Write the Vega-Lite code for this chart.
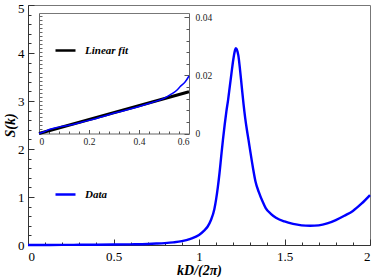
{
  "$schema": "https://vega.github.io/schema/vega-lite/v6.json",
  "width": 342,
  "height": 240,
  "autosize": "none",
  "padding": {"left": 28, "top": 5, "right": 4, "bottom": 32},
  "background": "white",
  "config": {
    "view": {"stroke": "#777", "strokeWidth": 1},
    "font": "Liberation Serif",
    "axis": {
      "grid": false,
      "labelFont": "Liberation Serif",
      "titleFont": "Liberation Serif",
      "labelColor": "#000",
      "titleColor": "#000",
      "tickColor": "#333",
      "domainColor": "#333",
      "labelFontSize": 13,
      "tickWidth": 1,
      "domainWidth": 1
    },
    "legend": {
      "labelFont": "Liberation Serif",
      "labelFontSize": 11,
      "labelFontWeight": "bold",
      "labelFontStyle": "italic",
      "labelColor": "#000",
      "padding": 0,
      "labelOffset": 8,
      "symbolType": "stroke",
      "symbolSize": 400,
      "symbolStrokeWidth": 2.5,
      "title": null
    }
  },
  "datasets": {
    "main": [
      {"k": 0, "s": 0}, {"k": 0.1, "s": 0.001}, {"k": 0.2, "s": 0.002}, {"k": 0.3, "s": 0.004},
      {"k": 0.4, "s": 0.006}, {"k": 0.5, "s": 0.009}, {"k": 0.6, "s": 0.014}, {"k": 0.7, "s": 0.022},
      {"k": 0.75, "s": 0.03}, {"k": 0.8, "s": 0.04}, {"k": 0.85, "s": 0.055}, {"k": 0.9, "s": 0.08},
      {"k": 0.95, "s": 0.13}, {"k": 1.0, "s": 0.21}, {"k": 1.03, "s": 0.3}, {"k": 1.05, "s": 0.38},
      {"k": 1.07, "s": 0.52}, {"k": 1.09, "s": 0.75}, {"k": 1.1, "s": 0.95}, {"k": 1.11, "s": 1.2},
      {"k": 1.12, "s": 1.5}, {"k": 1.13, "s": 1.85}, {"k": 1.14, "s": 2.19}, {"k": 1.15, "s": 2.5},
      {"k": 1.16, "s": 2.78}, {"k": 1.17, "s": 3.02}, {"k": 1.18, "s": 3.3}, {"k": 1.19, "s": 3.58},
      {"k": 1.2, "s": 3.85}, {"k": 1.21, "s": 4.05}, {"k": 1.215, "s": 4.1}, {"k": 1.22, "s": 4.08},
      {"k": 1.23, "s": 3.95}, {"k": 1.24, "s": 3.65}, {"k": 1.25, "s": 3.3}, {"k": 1.26, "s": 2.95},
      {"k": 1.27, "s": 2.65}, {"k": 1.28, "s": 2.4}, {"k": 1.29, "s": 2.18}, {"k": 1.3, "s": 1.95},
      {"k": 1.315, "s": 1.62}, {"k": 1.33, "s": 1.33}, {"k": 1.35, "s": 1.1}, {"k": 1.37, "s": 0.92},
      {"k": 1.39, "s": 0.77}, {"k": 1.42, "s": 0.65}, {"k": 1.45, "s": 0.57}, {"k": 1.5, "s": 0.49},
      {"k": 1.55, "s": 0.44}, {"k": 1.6, "s": 0.41}, {"k": 1.65, "s": 0.4}, {"k": 1.7, "s": 0.41},
      {"k": 1.75, "s": 0.45}, {"k": 1.8, "s": 0.52}, {"k": 1.85, "s": 0.61}, {"k": 1.9, "s": 0.71},
      {"k": 1.95, "s": 0.86}, {"k": 2.0, "s": 1.04}
    ],
    "inset": [
      {"k": 0, "s": 0}, {"k": 0.02, "s": 0.0006}, {"k": 0.044, "s": 0.00145}, {"k": 0.08, "s": 0.0022},
      {"k": 0.124, "s": 0.0029}, {"k": 0.18, "s": 0.0041}, {"k": 0.23, "s": 0.0052}, {"k": 0.31, "s": 0.0072},
      {"k": 0.38, "s": 0.0088}, {"k": 0.45, "s": 0.0106}, {"k": 0.5, "s": 0.0121}, {"k": 0.524, "s": 0.0133},
      {"k": 0.55, "s": 0.0148}, {"k": 0.564, "s": 0.0161}, {"k": 0.585, "s": 0.0178}, {"k": 0.6, "s": 0.0198}
    ],
    "fit": [{"k": 0, "s": 0}, {"k": 0.6, "s": 0.0144}]
  },
  "layer": [
    {
      "data": {"name": "main"},
      "mark": {"type": "line", "strokeWidth": 2.4, "interpolate": "monotone"},
      "encoding": {
        "x": {"field": "k", "type": "quantitative", "scale": {"domain": [0, 2], "nice": false, "zero": false},
              "axis": {"orient": "bottom", "values": [0, 0.5, 1, 1.5, 2], "format": "~g", "tickSize": -6, "labelPadding": 11,
                       "title": "kD/(2π)", "titleFontSize": 14, "titleFontWeight": "bold", "titleFontStyle": "italic", "titlePadding": 0}},
        "y": {"field": "s", "type": "quantitative", "scale": {"domain": [0, 5], "nice": false, "zero": false},
              "axis": {"orient": "left", "values": [0, 1, 2, 3, 4, 5], "format": "~g", "tickSize": -6, "labelPadding": 10,
                       "labelOffset": {"condition": {"test": "datum.value == 5", "value": 3}, "value": 0},
                       "title": "S(k)", "titleFontSize": 14, "titleFontWeight": "bold", "titleFontStyle": "italic", "titlePadding": 0}},
        "color": {"datum": "Data", "scale": {"range": ["#0000ff"]},
                  "legend": {"orient": "none", "legendX": 26, "legendY": 178}}
      }
    },
    {
      "data": {"name": "main"},
      "mark": {"type": "line", "opacity": 0},
      "encoding": {
        "x": {"field": "k", "type": "quantitative", "scale": {"domain": [0, 2], "nice": false, "zero": false},
              "axis": {"orient": "bottom", "values": [0.1, 0.2, 0.3, 0.4, 0.6, 0.7, 0.8, 0.9, 1.1, 1.2, 1.3, 1.4, 1.6, 1.7, 1.8, 1.9],
                       "tickSize": -3, "labels": false, "domain": false, "title": null}},
        "y": {"field": "s", "type": "quantitative", "scale": {"domain": [0, 5], "nice": false, "zero": false},
              "axis": {"orient": "left", "values": [0.2, 0.4, 0.6, 0.8, 1.2, 1.4, 1.6, 1.8, 2.2, 2.4, 2.6, 2.8, 3.2, 3.4, 3.6, 3.8, 4.2, 4.4, 4.6, 4.8],
                       "tickSize": -3, "labels": false, "domain": false, "title": null}}
      }
    },
    {
      "data": {"name": "fit"},
      "mark": {"type": "line", "strokeWidth": 3},
      "encoding": {
        "x": {"field": "k", "type": "quantitative", "scale": {"domain": [0, 0.6], "range": [11, 161], "nice": false, "zero": false},
              "axis": {"orient": "top", "offset": -8, "ticks": false, "labels": false, "domainColor": "#777", "title": null}},
        "y": {"field": "s", "type": "quantitative", "scale": {"domain": [0, 0.0415], "range": [128.5, 8], "nice": false, "zero": false},
              "axis": {"orient": "left", "offset": -11, "labels": false, "tickSize": -3, "domainColor": "#666", "tickColor": "#666", "title": null,
                       "values": [0.0014, 0.0028, 0.0042, 0.0056, 0.007, 0.0084, 0.0098, 0.0112, 0.0126, 0.014, 0.0154, 0.0168, 0.0182, 0.0196, 0.021, 0.0224, 0.0238, 0.0252, 0.0266, 0.028, 0.0294, 0.0308, 0.0322, 0.0336, 0.035, 0.0364, 0.0378, 0.0392, 0.0406]}},
        "color": {"datum": "Linear fit", "scale": {"range": ["#000000"]},
                  "legend": {"orient": "none", "legendX": 26, "legendY": 34}}
      }
    },
    {
      "data": {"name": "inset"},
      "mark": {"type": "line", "strokeWidth": 1.5, "color": "#0000ff", "interpolate": "monotone"},
      "encoding": {
        "x": {"field": "k", "type": "quantitative", "scale": {"domain": [0, 0.6], "range": [11, 161], "nice": false, "zero": false},
              "axis": {"orient": "bottom", "offset": -111.5, "values": [0, 0.2, 0.4, 0.6], "format": "~g", "tickSize": -4,
                       "labelPadding": 7, "labelFontSize": 9.5, "labelColor": "#222", "domainColor": "#666", "tickColor": "#555", "title": null}},
        "y": {"field": "s", "type": "quantitative", "scale": {"domain": [0, 0.0415], "range": [128.5, 8], "nice": false, "zero": false},
              "axis": {"orient": "right", "offset": -181, "values": [0, 0.02, 0.04], "format": "~g", "tickSize": -5,
                       "labelPadding": 11, "labelFontSize": 9.5, "labelColor": "#222", "domainColor": "#666", "tickColor": "#555", "title": null}}
      }
    },
    {
      "data": {"name": "inset"},
      "mark": {"type": "line", "opacity": 0},
      "encoding": {
        "x": {"field": "k", "type": "quantitative", "scale": {"domain": [0, 0.6], "range": [11, 161], "nice": false, "zero": false},
              "axis": {"orient": "bottom", "offset": -111.5, "values": [0.04, 0.08, 0.12, 0.16, 0.24, 0.28, 0.32, 0.36, 0.44, 0.48, 0.52, 0.56],
                       "tickSize": -2.5, "labels": false, "domain": false, "tickColor": "#555", "title": null}},
        "y": {"field": "s", "type": "quantitative", "scale": {"domain": [0, 0.0415], "range": [128.5, 8], "nice": false, "zero": false},
              "axis": {"orient": "right", "offset": -181, "values": [0.004, 0.008, 0.012, 0.016, 0.024, 0.028, 0.032, 0.036],
                       "tickSize": -3, "labels": false, "domain": false, "tickColor": "#555", "title": null}}
      }
    }
  ],
  "resolve": {
    "scale": {"x": "independent", "y": "independent", "color": "independent"},
    "axis": {"x": "independent", "y": "independent"},
    "legend": {"color": "independent"}
  }
}
